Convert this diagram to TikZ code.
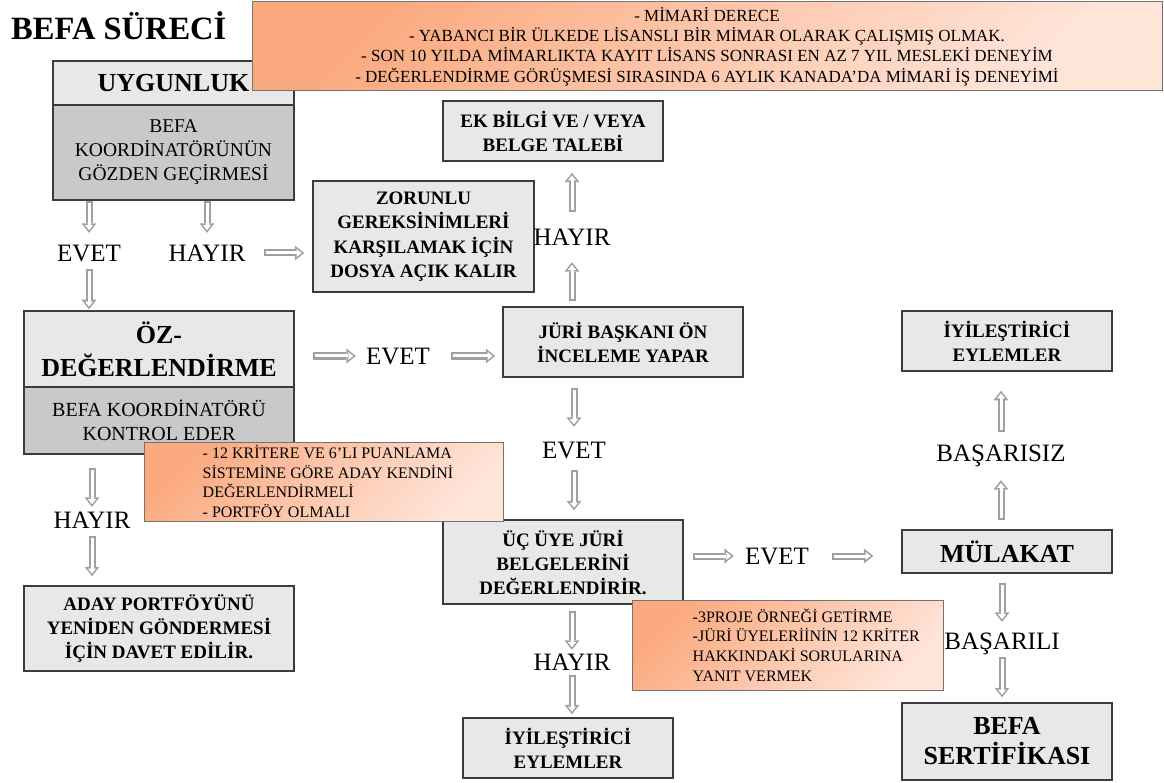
\documentclass[tikz,border=0pt]{standalone}
\usepackage{fontspec}
\setmainfont{Liberation Serif}
\usepackage{xcolor}
\usepackage{tikz}
\usetikzlibrary{arrows.meta}

\definecolor{boxgray}{RGB}{232,232,232}
\definecolor{subgray}{RGB}{201,201,201}
\definecolor{edgegray}{RGB}{60,60,60}
\definecolor{arrgray}{RGB}{160,160,160}
\definecolor{salmon}{RGB}{251,170,128}
\definecolor{peach}{RGB}{255,228,216}
\definecolor{noteedge}{RGB}{115,115,115}

\begin{document}
\begin{tikzpicture}[x=1pt, y=-1pt,
  box/.style={draw=edgegray, line width=1.5pt, fill=boxgray, align=center, inner sep=0pt,
    font=\fontsize{19}{24}\selectfont\bfseries},
  subbox/.style={box, fill=subgray, font=\fontsize{19.5}{24}\selectfont},
  bigbox/.style={box, font=\fontsize{26}{31}\selectfont\bfseries},
  note/.style={draw=noteedge, line width=1pt, top color=salmon, bottom color=peach, shading angle=45},
  notetext/.style={align=left, inner sep=0pt, font=\fontsize{16}{19.8}\selectfont},
  lbl/.style={inner sep=0pt, text height=17pt, text depth=0pt, font=\fontsize{25}{30}\selectfont},
  harr/.style 2 args={draw=arrgray, line width=7pt,
    -{Triangle[length=9.5pt, width=15pt, line width=0pt]},
    shorten <=#1, shorten >=#2,
    postaction={draw=white, line width=3pt,
      -{Triangle[length=5pt, width=8pt, line width=0pt]},
      shorten <=#1+2pt, shorten >=#2+2.6pt}}]

\fill[white] (0,0) rectangle (1164,783);
\useasboundingbox (0,0) rectangle (1164,783);

% Title
\node[anchor=base west, inner sep=0pt, font=\fontsize{32.5}{39}\selectfont\bfseries] (title) at (11,40) {BEFA SÜRECİ};

% Left column
\node[bigbox, minimum width=241pt, minimum height=44pt] (uyg) at (173.5,83) {UYGUNLUK};
\node[subbox, minimum width=241pt, minimum height=95pt] (uygsub) at (173.5,152.5) {BEFA\\KOORDİNATÖRÜNÜN\\GÖZDEN GEÇİRMESİ};
\node[bigbox, minimum width=270pt, minimum height=76pt, font=\fontsize{26}{33}\selectfont\bfseries] (ozd) at (159,349) {ÖZ-\\DEĞERLENDİRME};
\node[subbox, minimum width=270pt, minimum height=67pt, font=\fontsize{20}{24}\selectfont] (ozdsub) at (159,420.5) {BEFA KOORDİNATÖRÜ\\KONTROL EDER};
\node[box, minimum width=270pt, minimum height=85pt] (ada) at (159,628.5) {ADAY PORTFÖYÜNÜ\\YENİDEN GÖNDERMESİ\\İÇİN DAVET EDİLİR.};

% Middle column
\node[box, minimum width=221pt, minimum height=111pt, font=\fontsize{19}{24.5}\selectfont\bfseries] (zor) at (423.5,236.5) {ZORUNLU\\GEREKSİNİMLERİ\\KARŞILAMAK İÇİN\\DOSYA AÇIK KALIR};
\node[box, minimum width=220pt, minimum height=60pt] (ekb) at (553,131) {EK BİLGİ VE / VEYA\\BELGE TALEBİ};
\node[box, minimum width=240pt, minimum height=70pt] (jur) at (623,342) {JÜRİ BAŞKANI ÖN\\İNCELEME YAPAR};
\node[box, minimum width=240pt, minimum height=84pt] (ucu) at (563,562) {ÜÇ ÜYE JÜRİ\\BELGELERİNİ\\DEĞERLENDİRİR.};
\node[box, minimum width=210pt, minimum height=60pt] (iyi1) at (568,748) {İYİLEŞTİRİCİ\\EYLEMLER};

% Right column
\node[box, minimum width=210pt, minimum height=60pt] (iyi2) at (1007,341) {İYİLEŞTİRİCİ\\EYLEMLER};
\node[bigbox, minimum width=210pt, minimum height=43pt] (mul) at (1007,551.5) {MÜLAKAT};
\node[bigbox, minimum width=210pt, minimum height=77pt, font=\fontsize{26}{30}\selectfont\bfseries] (bef) at (1007,741.5) {BEFA\\SERTİFİKASI};

% Notes
\node[note, minimum width=910pt, minimum height=89pt, align=center, font=\fontsize{17}{20.3}\selectfont] (req) at (707,46.5)
  {- MİMARİ DERECE\\- YABANCI BİR ÜLKEDE LİSANSLI  BİR MİMAR OLARAK ÇALIŞMIŞ  OLMAK.\\- SON 10 YILDA MİMARLIKTA KAYIT LİSANS SONRASI EN AZ 7 YIL MESLEKİ DENEYİM\\- DEĞERLENDİRME GÖRÜŞMESİ SIRASINDA  6 AYLIK KANADA’DA  MİMARİ  İŞ DENEYİMİ};
\node[note, minimum width=359pt, minimum height=79pt] (crit) at (323.5,481.5) {};
\node[notetext, anchor=west] (crittxt) at ([xshift=59pt]crit.west) {- 12 KRİTERE VE 6’LI PUANLAMA\\SİSTEMİNE  GÖRE ADAY KENDİNİ\\DEĞERLENDİRMELİ\\- PORTFÖY OLMALI};
\node[note, minimum width=311pt, minimum height=90pt] (ask) at (787.5,645) {};
\node[notetext, anchor=west, font=\fontsize{16}{19.7}\selectfont] (asktxt) at ([xshift=61pt]ask.west) {-3PROJE ÖRNEĞİ GETİRME\\-JÜRİ ÜYELERİİNİN  12 KRİTER\\HAKKINDAKİ  SORULARINA\\YANIT  VERMEK};

% Labels
\node[lbl] (ev1) at (89,253) {EVET};
\node[lbl] (hy1) at (207,253) {HAYIR};
\node[lbl] (ev2) at (398,356) {EVET};
\node[lbl] (hy2) at (572,237) {HAYIR};
\node[lbl] (ev3) at (574,450) {EVET};
\node[lbl] (hy3) at (92,520) {HAYIR};
\node[lbl] (hy4) at (572,662) {HAYIR};
\node[lbl] (ev4) at (777,556) {EVET};
\node[lbl] (basz) at (1001,453) {BAŞARISIZ};
\node[lbl] (basl) at (1002,641) {BAŞARILI};

% Arrows
\draw[harr={0pt}{11.5pt}] (uygsub.south -| ev1) -- (ev1.north);
\draw[harr={0pt}{11.5pt}] (uygsub.south -| hy1) -- (hy1.north);
\draw[harr={7.5pt}{1pt}] (ev1.south) -- (ev1.south |- ozd.north);
\draw[harr={18pt}{8pt}] (hy1.east) -- (hy1.east -| zor.west);
\draw[harr={18pt}{10pt}] (ozd.east |- ev2) -- (ev2.west);
\draw[harr={21pt}{7pt}] (ev2.east) -- (ev2.east -| jur.west);
\draw[harr={5pt}{16.5pt}] (jur.north -| hy2) -- (hy2.south);
\draw[harr={16.5pt}{11pt}] (hy2.north) -- (hy2.north |- ekb.south);
\draw[harr={10pt}{14.5pt}] (jur.south -| ev3) -- (ev3.north);
\draw[harr={11.5pt}{9pt}] (ev3.south) -- (ev3.south |- ucu.north);
\draw[harr={9pt}{11pt}] (ucu.east |- ev4) -- (ev4.west);
\draw[harr={23pt}{28pt}] (ev4.east) -- (ev4.east -| mul.west);
\draw[harr={9pt}{18.5pt}] (mul.north -| basz) -- (basz.south);
\draw[harr={12.5pt}{19pt}] (basz.north) -- (basz.north |- iyi2.south);
\draw[harr={9pt}{10.5pt}] (mul.south -| basl) -- (basl.north);
\draw[harr={7.5pt}{5pt}] (basl.south) -- (basl.south |- bef.north);
\draw[harr={6pt}{3.5pt}] (ucu.south -| hy4) -- (hy4.north);
\draw[harr={4.5pt}{3pt}] (hy4.south) -- (hy4.south |- iyi1.north);
\draw[harr={13pt}{4.5pt}] (ozdsub.south -| hy3) -- (hy3.north);
\draw[harr={7.5pt}{9pt}] (hy3.south) -- (hy3.south |- ada.north);
\end{tikzpicture}
\end{document}
